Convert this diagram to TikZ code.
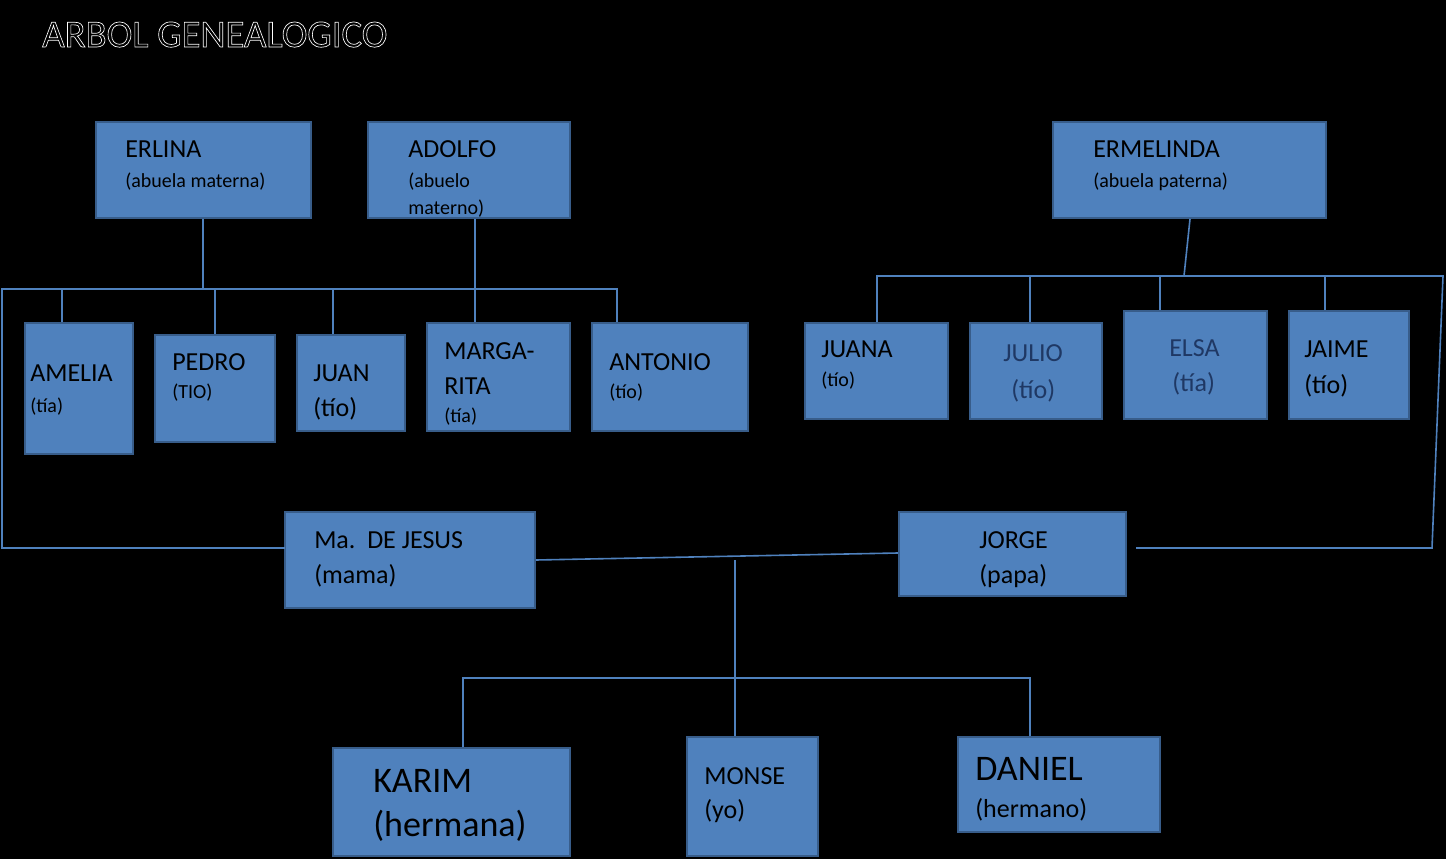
\documentclass[tikz,border=0pt]{standalone}
\usepackage{fontspec}
\setmainfont{Carlito}
\definecolor{boxfill}{HTML}{4F81BD}
\definecolor{boxline}{HTML}{385D8A}
\definecolor{darkname}{HTML}{1F3864}
\newcommand{\fsA}{\fontsize{19.5}{22}\selectfont}
\newcommand{\fsB}{\fontsize{15}{18}\selectfont}
\newcommand{\fsC}{\fontsize{27}{30}\selectfont}
\tikzset{
  persona/.style={draw=boxline, line width=2.2pt, fill=boxfill},
  rama/.style={draw=boxfill, line width=1.2pt},
  nombre/.style={anchor=base west, inner sep=0pt, font=\fsA},
  nota/.style={anchor=base west, inner sep=0pt, font=\fsB},
}
\newcommand{\caja}[5]{\path[persona] (#2,#3) rectangle (#4,#5) coordinate (#1);}
\begin{document}
\begin{tikzpicture}[x=0.75pt,y=0.75pt,yscale=-1]
\fill[black] (0,0) rectangle (1446,859);
% title
\node[anchor=base west, inner sep=0pt, font=\fontsize{29}{32}\selectfont, text=white] (titulo) at (42,47)
  {\special{pdf:code 1 Tr 0.5 w}ARBOL GENEALOGICO\special{pdf:code 0 Tr}};
% abuelos
\path[persona] (96,122) rectangle (311,218);
\path[persona] (368,122) rectangle (570,218);
\path[persona] (1053,122) rectangle (1326,218);
\node[nombre] (erlina) at (125,158) {ERLINA};
\node[nota] (erlinab) at (125,188) {(abuela materna)};
\node[nombre] (adolfo) at (408,158) {ADOLFO};
\node[nota] (adolfob) at (408,188) {(abuelo};
\node[nota] (adolfoc) at (408,215) {materno)};
\node[nombre] (ermelinda) at (1093,158) {ERMELINDA};
\node[nota] (ermelindab) at (1093,188) {(abuela paterna)};
% tios maternos
\path[persona] (25,323) rectangle (133,454);
\path[persona] (155,335) rectangle (275,442);
\path[persona] (297,335) rectangle (405,431);
\path[persona] (427,323) rectangle (570,431);
\path[persona] (592,323) rectangle (748,431);
\node[nombre] (amelia) at (30,382) {AMELIA};
\node[nota] (ameliab) at (30,412) {(tía)};
\node[nombre] (pedro) at (172,370) {PEDRO};
\node[nota] (pedrob) at (172,398) {(TIO)};
\node[nombre] (juan) at (313,382) {JUAN};
\node[nombre] (juanb) at (313,416) {(tío)};
\node[nombre] (marga) at (444,359) {MARGA-};
\node[nombre] (margab) at (444,394) {RITA};
\node[nota] (margac) at (444,422) {(tía)};
\node[nombre] (antonio) at (609,370) {ANTONIO};
\node[nota] (antoniob) at (609,398) {(tío)};
% tios paternos
\path[persona] (805,323) rectangle (948,419);
\path[persona] (970,323) rectangle (1102,419);
\path[persona] (1124,311) rectangle (1267,419);
\path[persona] (1289,311) rectangle (1409,419);
\node[nombre] (juana) at (821,358) {JUANA};
\node[nota] (juanab) at (821,387) {(tío)};
\node[nombre, text=darkname] (julio) at (1003,362) {JULIO};
\node[nombre, text=darkname] (juliob) at (1011,398) {(tío)};
\node[nombre, text=darkname] (elsa) at (1169,357) {ELSA};
\node[nombre, text=darkname] (elsab) at (1172,391) {(tía)};
\node[nombre] (jaime) at (1304,358) {JAIME};
\node[nombre] (jaimeb) at (1304,393) {(tío)};
% padres
\path[persona] (285,512) rectangle (535,608);
\path[persona] (899,512) rectangle (1126,596);
\node[nombre] (mama) at (314,548) {Ma.\ \ DE JESUS};
\node[nombre] (mamab) at (314,583) {(mama)};
\node[nombre] (papa) at (979,548) {JORGE};
\node[nombre] (papab) at (979,583) {(papa)};
% hijos
\path[persona] (333,748) rectangle (570,856);
\path[persona] (687,737) rectangle (818,856);
\path[persona] (958,737) rectangle (1160,832);
\node[nombre, font=\fsC] (karim) at (373,792) {KARIM};
\node[nombre, font=\fsC] (karimb) at (373,836) {(hermana)};
\node[nombre] (monse) at (704,784) {MONSE};
\node[nombre] (monseb) at (704,818) {(yo)};
\node[nombre, font=\fsC] (daniel) at (975,780) {DANIEL};
\node[nombre] (danielb) at (975,817) {(hermano)};
% lineas maternas
\draw[rama] (203,219) -- (203,289);
\draw[rama] (285,548) -- (2,548) -- (2,289) -- (617,289) -- (617,322);
\foreach \x/\y in {62/322, 215/334, 333/334} \draw[rama] (\x,289) -- (\x,\y);
\draw[rama] (475,219) -- (475,322);
% lineas paternas
\draw[rama] (1190,219) -- (1184,276);
\draw[rama] (877,322) -- (877,276) -- (1443,276) -- (1432,548) -- (1136,548);
\foreach \x/\y in {1030/322, 1160/310, 1325/310} \draw[rama] (\x,276) -- (\x,\y);
% hijos
\draw[rama] (536,560) -- (898,553);
\draw[rama] (735,560) -- (735,736);
\draw[rama] (463,747) -- (463,678) -- (1030,678) -- (1030,736);
\end{tikzpicture}
\end{document}
